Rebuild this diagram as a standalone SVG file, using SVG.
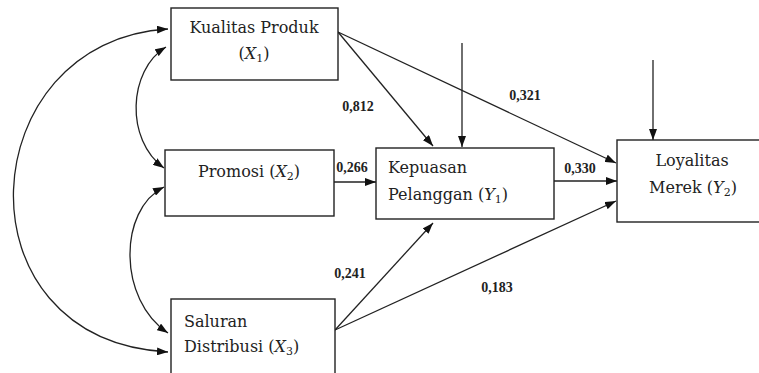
<svg xmlns="http://www.w3.org/2000/svg" width="759" height="373" viewBox="0 0 759 373">
<defs>
<marker id="ah" viewBox="0 0 11 8" refX="11" refY="4" markerWidth="11" markerHeight="8" markerUnits="userSpaceOnUse" orient="auto-start-reverse">
<path d="M0,0 L11,4 L0,8 z" fill="#111"/>
</marker>
<style>
.box{fill:#fff;stroke:#222;stroke-width:1.4}
.t{font-family:"DejaVu Serif","Liberation Serif",serif;font-size:16px;fill:#222}
.m{font-style:italic}
.s{font-size:11px}
.lbl{font-family:"Liberation Serif",serif;font-weight:bold;font-size:14px;fill:#222}
.c{fill:none;stroke:#222;stroke-width:1.3}
</style>
</defs>
<rect width="759" height="373" fill="#fff"/>
<g id="connectors">
<line class="c" x1="338" y1="32" x2="433" y2="146" marker-end="url(#ah)"/>
<line class="c" x1="338" y1="32" x2="616" y2="163" marker-end="url(#ah)"/>
<line class="c" x1="462" y1="43" x2="462" y2="147" marker-end="url(#ah)"/>
<line class="c" x1="653" y1="60" x2="653" y2="140" marker-end="url(#ah)"/>
<line class="c" x1="334" y1="182" x2="376" y2="182" marker-end="url(#ah)"/>
<line class="c" x1="554" y1="181" x2="617" y2="181" marker-end="url(#ah)"/>
<line class="c" x1="335" y1="330" x2="433" y2="223" marker-end="url(#ah)"/>
<line class="c" x1="335" y1="330" x2="616" y2="201" marker-end="url(#ah)"/>
<path class="c" d="M168,29 C-28,40 -48,340 168,352" marker-start="url(#ah)" marker-end="url(#ah)"/>
<path class="c" d="M166,47 C128,70 125,140 164,168" marker-start="url(#ah)" marker-end="url(#ah)"/>
<path class="c" d="M164,187 C118,210 118,300 168,333" marker-start="url(#ah)" marker-end="url(#ah)"/>
</g>
<g id="kualitas">
<rect class="box" x="171" y="8" width="167" height="72"/>
<text class="t" x="254" y="33" text-anchor="middle">Kualitas Produk</text>
<text class="t" x="254" y="59" text-anchor="middle">(<tspan class="m">X</tspan><tspan class="s" dy="3">1</tspan><tspan dy="-3">)</tspan></text>
</g>
<g id="promosi">
<rect class="box" x="165" y="150" width="169" height="66"/>
<text class="t" x="249" y="177" text-anchor="middle">Promosi (<tspan class="m">X</tspan><tspan class="s" dy="3">2</tspan><tspan dy="-3">)</tspan></text>
</g>
<g id="saluran">
<rect class="box" x="171" y="299" width="164" height="90"/>
<text class="t" x="184" y="327">Saluran</text>
<text class="t" x="184" y="352">Distribusi (<tspan class="m">X</tspan><tspan class="s" dy="3">3</tspan><tspan dy="-3">)</tspan></text>
</g>
<g id="kepuasan">
<rect class="box" x="376" y="148" width="178" height="71"/>
<text class="t" x="388" y="173">Kepuasan</text>
<text class="t" x="388" y="200">Pelanggan (<tspan class="m">Y</tspan><tspan class="s" dy="3">1</tspan><tspan dy="-3">)</tspan></text>
</g>
<g id="loyalitas">
<rect class="box" x="617" y="140" width="160" height="82"/>
<text class="t" x="692" y="166" text-anchor="middle">Loyalitas</text>
<text class="t" x="693" y="193" text-anchor="middle">Merek (<tspan class="m">Y</tspan><tspan class="s" dy="3">2</tspan><tspan dy="-3">)</tspan></text>
</g>
<g id="labels">
<text class="lbl" x="358" y="111" text-anchor="middle">0,812</text>
<text class="lbl" x="525" y="100" text-anchor="middle">0,321</text>
<text class="lbl" x="352" y="172" text-anchor="middle">0,266</text>
<text class="lbl" x="580" y="173" text-anchor="middle">0,330</text>
<text class="lbl" x="350" y="278" text-anchor="middle">0,241</text>
<text class="lbl" x="497" y="292" text-anchor="middle">0,183</text>
</g>
</svg>
